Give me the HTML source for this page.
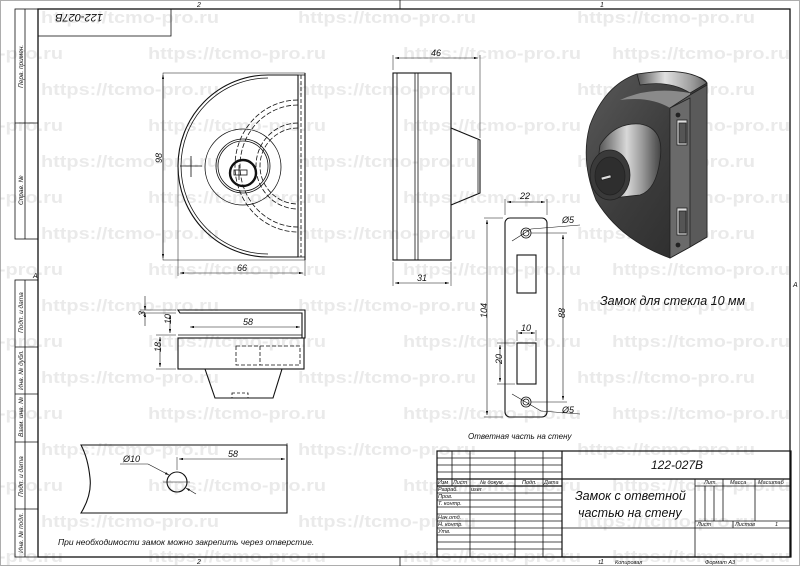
<!DOCTYPE html>
<html><head><meta charset="utf-8"><style>
html,body{margin:0;padding:0;background:#fff;}
svg{display:block;}
text{font-family:"Liberation Sans","DejaVu Sans",sans-serif;font-style:italic;fill:#111;}
.wm text{font-family:"Liberation Sans",sans-serif;font-weight:bold;font-style:normal;font-size:17px;fill:#e6e6e6;opacity:0.8;}
</style></head><body>
<svg width="800" height="566" viewBox="0 0 800 566" xmlns="http://www.w3.org/2000/svg">
<defs>
<marker id="a" viewBox="0 0 10 6" refX="10" refY="3" markerWidth="8" markerHeight="4" orient="auto-start-reverse"><path d="M0,0 L10,3 L0,6z" fill="#111"/></marker>
<linearGradient id="gBody" x1="0" y1="0" x2="1" y2="1"><stop offset="0" stop-color="#5a5a5a"/><stop offset="0.5" stop-color="#3c3c3c"/><stop offset="1" stop-color="#2a2a2a"/></linearGradient>
<linearGradient id="gCone" x1="0" y1="0" x2="1" y2="0"><stop offset="0" stop-color="#555"/><stop offset="0.45" stop-color="#d8d8d8"/><stop offset="0.7" stop-color="#9a9a9a"/><stop offset="1" stop-color="#444"/></linearGradient>
<linearGradient id="gBand" x1="0" y1="0" x2="1" y2="0"><stop offset="0" stop-color="#555"/><stop offset="0.4" stop-color="#e0e0e0"/><stop offset="0.8" stop-color="#999"/><stop offset="1" stop-color="#666"/></linearGradient>
</defs>

<!-- watermarks (behind) -->
<g class="wm">
<text x="41" y="23" textLength="178" lengthAdjust="spacingAndGlyphs">https://tcmo-pro.ru</text>
<text x="298" y="23" textLength="178" lengthAdjust="spacingAndGlyphs">https://tcmo-pro.ru</text>
<text x="577" y="23" textLength="178" lengthAdjust="spacingAndGlyphs">https://tcmo-pro.ru</text>
<text x="-115" y="59" textLength="178" lengthAdjust="spacingAndGlyphs">https://tcmo-pro.ru</text>
<text x="148" y="59" textLength="178" lengthAdjust="spacingAndGlyphs">https://tcmo-pro.ru</text>
<text x="403" y="59" textLength="178" lengthAdjust="spacingAndGlyphs">https://tcmo-pro.ru</text>
<text x="612" y="59" textLength="178" lengthAdjust="spacingAndGlyphs">https://tcmo-pro.ru</text>
<text x="41" y="95" textLength="178" lengthAdjust="spacingAndGlyphs">https://tcmo-pro.ru</text>
<text x="298" y="95" textLength="178" lengthAdjust="spacingAndGlyphs">https://tcmo-pro.ru</text>
<text x="577" y="95" textLength="178" lengthAdjust="spacingAndGlyphs">https://tcmo-pro.ru</text>
<text x="-115" y="131" textLength="178" lengthAdjust="spacingAndGlyphs">https://tcmo-pro.ru</text>
<text x="148" y="131" textLength="178" lengthAdjust="spacingAndGlyphs">https://tcmo-pro.ru</text>
<text x="403" y="131" textLength="178" lengthAdjust="spacingAndGlyphs">https://tcmo-pro.ru</text>
<text x="612" y="131" textLength="178" lengthAdjust="spacingAndGlyphs">https://tcmo-pro.ru</text>
<text x="41" y="167" textLength="178" lengthAdjust="spacingAndGlyphs">https://tcmo-pro.ru</text>
<text x="298" y="167" textLength="178" lengthAdjust="spacingAndGlyphs">https://tcmo-pro.ru</text>
<text x="577" y="167" textLength="178" lengthAdjust="spacingAndGlyphs">https://tcmo-pro.ru</text>
<text x="-115" y="203" textLength="178" lengthAdjust="spacingAndGlyphs">https://tcmo-pro.ru</text>
<text x="148" y="203" textLength="178" lengthAdjust="spacingAndGlyphs">https://tcmo-pro.ru</text>
<text x="403" y="203" textLength="178" lengthAdjust="spacingAndGlyphs">https://tcmo-pro.ru</text>
<text x="612" y="203" textLength="178" lengthAdjust="spacingAndGlyphs">https://tcmo-pro.ru</text>
<text x="41" y="239" textLength="178" lengthAdjust="spacingAndGlyphs">https://tcmo-pro.ru</text>
<text x="298" y="239" textLength="178" lengthAdjust="spacingAndGlyphs">https://tcmo-pro.ru</text>
<text x="577" y="239" textLength="178" lengthAdjust="spacingAndGlyphs">https://tcmo-pro.ru</text>
<text x="-115" y="275" textLength="178" lengthAdjust="spacingAndGlyphs">https://tcmo-pro.ru</text>
<text x="148" y="275" textLength="178" lengthAdjust="spacingAndGlyphs">https://tcmo-pro.ru</text>
<text x="403" y="275" textLength="178" lengthAdjust="spacingAndGlyphs">https://tcmo-pro.ru</text>
<text x="612" y="275" textLength="178" lengthAdjust="spacingAndGlyphs">https://tcmo-pro.ru</text>
<text x="41" y="311" textLength="178" lengthAdjust="spacingAndGlyphs">https://tcmo-pro.ru</text>
<text x="298" y="311" textLength="178" lengthAdjust="spacingAndGlyphs">https://tcmo-pro.ru</text>
<text x="577" y="311" textLength="178" lengthAdjust="spacingAndGlyphs">https://tcmo-pro.ru</text>
<text x="-115" y="347" textLength="178" lengthAdjust="spacingAndGlyphs">https://tcmo-pro.ru</text>
<text x="148" y="347" textLength="178" lengthAdjust="spacingAndGlyphs">https://tcmo-pro.ru</text>
<text x="403" y="347" textLength="178" lengthAdjust="spacingAndGlyphs">https://tcmo-pro.ru</text>
<text x="612" y="347" textLength="178" lengthAdjust="spacingAndGlyphs">https://tcmo-pro.ru</text>
<text x="41" y="383" textLength="178" lengthAdjust="spacingAndGlyphs">https://tcmo-pro.ru</text>
<text x="298" y="383" textLength="178" lengthAdjust="spacingAndGlyphs">https://tcmo-pro.ru</text>
<text x="577" y="383" textLength="178" lengthAdjust="spacingAndGlyphs">https://tcmo-pro.ru</text>
<text x="-115" y="419" textLength="178" lengthAdjust="spacingAndGlyphs">https://tcmo-pro.ru</text>
<text x="148" y="419" textLength="178" lengthAdjust="spacingAndGlyphs">https://tcmo-pro.ru</text>
<text x="403" y="419" textLength="178" lengthAdjust="spacingAndGlyphs">https://tcmo-pro.ru</text>
<text x="612" y="419" textLength="178" lengthAdjust="spacingAndGlyphs">https://tcmo-pro.ru</text>
<text x="41" y="455" textLength="178" lengthAdjust="spacingAndGlyphs">https://tcmo-pro.ru</text>
<text x="298" y="455" textLength="178" lengthAdjust="spacingAndGlyphs">https://tcmo-pro.ru</text>
<text x="577" y="455" textLength="178" lengthAdjust="spacingAndGlyphs">https://tcmo-pro.ru</text>
<text x="-115" y="491" textLength="178" lengthAdjust="spacingAndGlyphs">https://tcmo-pro.ru</text>
<text x="148" y="491" textLength="178" lengthAdjust="spacingAndGlyphs">https://tcmo-pro.ru</text>
<text x="403" y="491" textLength="178" lengthAdjust="spacingAndGlyphs">https://tcmo-pro.ru</text>
<text x="612" y="491" textLength="178" lengthAdjust="spacingAndGlyphs">https://tcmo-pro.ru</text>
<text x="41" y="527" textLength="178" lengthAdjust="spacingAndGlyphs">https://tcmo-pro.ru</text>
<text x="298" y="527" textLength="178" lengthAdjust="spacingAndGlyphs">https://tcmo-pro.ru</text>
<text x="577" y="527" textLength="178" lengthAdjust="spacingAndGlyphs">https://tcmo-pro.ru</text>
<text x="-115" y="562" textLength="178" lengthAdjust="spacingAndGlyphs">https://tcmo-pro.ru</text>
<text x="148" y="562" textLength="178" lengthAdjust="spacingAndGlyphs">https://tcmo-pro.ru</text>
<text x="403" y="562" textLength="178" lengthAdjust="spacingAndGlyphs">https://tcmo-pro.ru</text>
<text x="612" y="562" textLength="178" lengthAdjust="spacingAndGlyphs">https://tcmo-pro.ru</text>
</g>

<g fill="none" stroke="#111" stroke-width="0.8">
<rect x="0.5" y="0.5" width="799" height="565" stroke="#999"/>
<rect x="38" y="9" width="752" height="548" stroke-width="1.3"/>
<line x1="400" y1="0" x2="400" y2="9"/>
<line x1="400" y1="557" x2="400" y2="566"/>
<rect x="38" y="9" width="133" height="27"/>
<rect x="15" y="9" width="23" height="230"/>
<line x1="25" y1="9" x2="25" y2="239"/>
<line x1="15" y1="123" x2="38" y2="123"/>
<rect x="15" y="280" width="23" height="277"/>
<line x1="25" y1="280" x2="25" y2="557"/>
<line x1="15" y1="347" x2="38" y2="347"/>
<line x1="15" y1="394" x2="38" y2="394"/>
<line x1="15" y1="442" x2="38" y2="442"/>
<line x1="15" y1="509" x2="38" y2="509"/>
<rect x="437" y="451" width="354" height="106" stroke-width="1.2"/>
<line x1="562" y1="451" x2="562" y2="557" stroke-width="1.2"/>
<line x1="452" y1="451" x2="452" y2="486"/>
<line x1="470" y1="451" x2="470" y2="557"/>
<line x1="515" y1="451" x2="515" y2="557"/>
<line x1="543" y1="451" x2="543" y2="557"/>
<line x1="437" y1="458" x2="562" y2="458"/>
<line x1="437" y1="465" x2="562" y2="465"/>
<line x1="437" y1="472" x2="562" y2="472"/>
<line x1="437" y1="479" x2="791" y2="479" stroke-width="1.2"/>
<line x1="437" y1="486" x2="562" y2="486" stroke-width="1.2"/>
<line x1="437" y1="493" x2="562" y2="493"/>
<line x1="437" y1="500" x2="562" y2="500"/>
<line x1="437" y1="507" x2="562" y2="507"/>
<line x1="437" y1="514" x2="562" y2="514"/>
<line x1="437" y1="521" x2="562" y2="521"/>
<line x1="437" y1="528" x2="791" y2="528"/>
<line x1="437" y1="535" x2="562" y2="535"/>
<line x1="437" y1="542" x2="562" y2="542"/>
<line x1="437" y1="549" x2="562" y2="549"/>
<line x1="695" y1="479" x2="695" y2="557"/>
<line x1="723" y1="479" x2="723" y2="521"/>
<line x1="755" y1="479" x2="755" y2="521"/>
<line x1="695" y1="486" x2="791" y2="486"/>
<line x1="695" y1="521" x2="791" y2="521"/>
<line x1="705" y1="486" x2="705" y2="521"/>
<line x1="714" y1="486" x2="714" y2="521"/>
<line x1="733" y1="521" x2="733" y2="528"/>
</g>

<!-- FRONT VIEW -->
<g fill="none" stroke="#111" stroke-width="0.8">
<rect x="163" y="73" width="142" height="187" stroke-width="0.5"/>
<path d="M268,75 A90,91 0 0 0 268,257 L298,257 L298,75 Z" stroke-width="1.1"/>
<path d="M268,78 A87,88 0 0 0 268,254" />
<line x1="298" y1="75" x2="305" y2="75"/><line x1="298" y1="257" x2="305" y2="257"/>
<line x1="301" y1="75" x2="301" y2="257" stroke-dasharray="4,2"/>
<line x1="305" y1="73" x2="305" y2="260" stroke-width="1.1"/>
<path d="M298,100 A63,66 0 0 0 298,232" stroke-dasharray="5,2"/>
<path d="M298,105 A58,61 0 0 0 298,227" stroke-dasharray="5,2"/>
<path d="M298,123 A42,43 0 0 0 298,209" stroke-dasharray="5,2"/>
<path d="M298,128 A38,38 0 0 0 298,204" stroke-dasharray="5,2"/>
<circle cx="243" cy="167" r="38"/>
<circle cx="243" cy="166" r="27"/>
<circle cx="243" cy="166" r="25"/>
<circle cx="243" cy="173" r="13" stroke-width="2.4"/>
<rect x="234" y="170" width="13" height="5"/>
<line x1="239" y1="165" x2="239" y2="180"/>
<line x1="180" y1="166" x2="202" y2="166"/><line x1="191" y1="156" x2="191" y2="177"/>
<line x1="163" y1="75" x2="163" y2="258" marker-start="url(#a)" marker-end="url(#a)" stroke-width="0.6"/>
<line x1="178" y1="166" x2="178" y2="276" stroke-width="0.5"/>
<line x1="305" y1="260" x2="305" y2="276" stroke-width="0.5"/>
<line x1="180" y1="273" x2="303" y2="273" marker-start="url(#a)" marker-end="url(#a)" stroke-width="0.6"/>
</g>
<text x="161" y="170" font-size="9" transform="rotate(-90 158 166)">98</text>
<text x="237" y="271" font-size="9">66</text>

<!-- SIDE VIEW -->
<g fill="none" stroke="#111" stroke-width="0.8">
<rect x="393" y="73" width="58" height="187" stroke-width="1.1"/>
<line x1="397" y1="73" x2="397" y2="260"/>
<line x1="415" y1="73" x2="415" y2="260"/>
<line x1="418" y1="73" x2="418" y2="260"/>
<path d="M451,128 L480,140 L480,193 L451,205" stroke-width="1.1"/>
<line x1="478" y1="140" x2="478" y2="193"/>
<line x1="393" y1="70" x2="393" y2="55" stroke-width="0.5"/>
<line x1="480" y1="138" x2="480" y2="55" stroke-width="0.5"/>
<line x1="395" y1="58" x2="478" y2="58" marker-start="url(#a)" marker-end="url(#a)" stroke-width="0.6"/>
<line x1="393" y1="262" x2="393" y2="286" stroke-width="0.5"/>
<line x1="451" y1="262" x2="451" y2="286" stroke-width="0.5"/>
<line x1="395" y1="283" x2="449" y2="283" marker-start="url(#a)" marker-end="url(#a)" stroke-width="0.6"/>
</g>
<text x="431" y="56" font-size="9">46</text>
<text x="417" y="281" font-size="9">31</text>

<!-- STRIKE PLATE -->
<g fill="none" stroke="#111" stroke-width="0.8">
<rect x="505" y="218" width="42" height="199" rx="5" stroke-width="1.1"/>
<circle cx="526" cy="233" r="5"/><circle cx="526" cy="233" r="3"/>
<circle cx="526" cy="402" r="5"/><circle cx="526" cy="402" r="3"/>
<rect x="517" y="255" width="19" height="38" stroke-width="1.1"/>
<rect x="517" y="343" width="19" height="41" stroke-width="1.1"/>
<line x1="505" y1="215" x2="505" y2="199" stroke-width="0.5"/>
<line x1="547" y1="215" x2="547" y2="199" stroke-width="0.5"/>
<line x1="507" y1="202" x2="545" y2="202" marker-start="url(#a)" marker-end="url(#a)" stroke-width="0.6"/>
<line x1="503" y1="218" x2="484" y2="218" stroke-width="0.5"/>
<line x1="503" y1="417" x2="484" y2="417" stroke-width="0.5"/>
<line x1="487" y1="220" x2="487" y2="415" marker-start="url(#a)" marker-end="url(#a)" stroke-width="0.6"/>
<line x1="531" y1="233" x2="567" y2="233" stroke-width="0.5"/>
<line x1="531" y1="402" x2="567" y2="402" stroke-width="0.5"/>
<line x1="563" y1="235" x2="563" y2="400" marker-start="url(#a)" marker-end="url(#a)" stroke-width="0.6"/>
<line x1="517" y1="341" x2="517" y2="330" stroke-width="0.5"/>
<line x1="536" y1="341" x2="536" y2="330" stroke-width="0.5"/>
<line x1="518" y1="333" x2="535" y2="333" marker-start="url(#a)" marker-end="url(#a)" stroke-width="0.6"/>
<line x1="515" y1="343" x2="497" y2="343" stroke-width="0.5"/>
<line x1="515" y1="384" x2="497" y2="384" stroke-width="0.5"/>
<line x1="500" y1="345" x2="500" y2="382" marker-start="url(#a)" marker-end="url(#a)" stroke-width="0.6"/>
<line x1="512" y1="241" x2="531" y2="229" stroke-width="0.6"/>
<line x1="531" y1="229" x2="580" y2="225" stroke-width="0.5"/>
<line x1="512" y1="394" x2="541" y2="411" stroke-width="0.6"/>
<line x1="541" y1="411" x2="580" y2="414" stroke-width="0.5"/>
</g>
<text x="520" y="199" font-size="9">22</text>
<text x="483" y="322" font-size="9" transform="rotate(-90 483 318)">104</text>
<text x="561" y="322" font-size="9" transform="rotate(-90 561 318)">88</text>
<text x="521" y="331" font-size="9">10</text>
<text x="498" y="368" font-size="9" transform="rotate(-90 498 364)">20</text>
<text x="562" y="223" font-size="9">Ø5</text>
<text x="562" y="413" font-size="9">Ø5</text>
<text x="468" y="439" font-size="8">Ответная часть на стену</text>

<!-- 3D RENDER -->
<g stroke="#222" stroke-width="0.8">
<path d="M637,74 Q700,70 707,83 L707,237 L690,247 L670,258 Q620,240 596,200 Q580,160 590,125 Q605,85 637,74 Z" fill="url(#gBody)"/>
<path d="M637,74 Q690,66 707,83 L690,93 Q670,80 640,85 Z" fill="url(#gBand)"/>
<path d="M620,100 Q650,86 690,93 L690,108 L670,108 Q650,96 620,100Z" fill="#8a8a8a" stroke="none"/>
<path d="M670,108 L690,95 L707,85 L707,237 L690,247 L670,258 Z" fill="#5a5a5a"/>
<path d="M670,108 L690,98 L690,247 L670,258 Z" fill="#6a6a6a"/>
<path d="M600,145 Q615,122 640,124 Q665,128 660,160 Q656,190 640,195 L612,198 Q595,175 600,145Z" fill="url(#gCone)"/>
<ellipse cx="610" cy="175" rx="20" ry="25" fill="#3a3a3a"/>
<ellipse cx="610" cy="176" rx="15" ry="19" fill="#2e2e2e"/>
<rect x="601" y="176" width="10" height="3" fill="#ddd" transform="rotate(-15 606 177)"/>
<rect x="677" y="120" width="10" height="25" fill="#ddd"/>
<rect x="679" y="123" width="7" height="20" fill="#555"/>
<rect x="677" y="208" width="10" height="27" fill="#ddd"/>
<rect x="679" y="211" width="7" height="22" fill="#555"/>
<circle cx="678" cy="115" r="2" fill="#222"/>
<circle cx="678" cy="245" r="2" fill="#222"/>
</g>
<text x="600" y="305" font-size="12.5">Замок для стекла 10 мм</text>

<!-- TOP VIEW -->
<g fill="none" stroke="#111" stroke-width="0.8">
<path d="M178,310 L305,310 L305,338 L302,338 L302,313 L180,313 Z" stroke-width="1.1"/>
<path d="M178,335 L302,335" />
<rect x="178" y="338" width="126" height="31" stroke-width="1.1"/>
<path d="M205,369 L215,398 L273,398 L282,369" stroke-width="1.1"/>
<rect x="236" y="346" width="64" height="19" stroke-dasharray="4,2"/>
<line x1="260" y1="346" x2="260" y2="365" stroke-dasharray="4,2"/>
<rect x="232" y="393" width="16" height="5" stroke-dasharray="3,2"/>
<line x1="176" y1="310" x2="140" y2="310" stroke-width="0.5"/>
<line x1="176" y1="313" x2="140" y2="313" stroke-width="0.5"/>
<line x1="145" y1="296" x2="145" y2="310" marker-end="url(#a)" stroke-width="0.6"/>
<line x1="145" y1="326" x2="145" y2="313" marker-end="url(#a)" stroke-width="0.6"/>
<line x1="176" y1="335" x2="156" y2="335" stroke-width="0.5"/>
<line x1="176" y1="369" x2="156" y2="369" stroke-width="0.5"/>
<line x1="170" y1="315" x2="170" y2="333" marker-start="url(#a)" marker-end="url(#a)" stroke-width="0.6"/>
<line x1="160" y1="337" x2="160" y2="367" marker-start="url(#a)" marker-end="url(#a)" stroke-width="0.6"/>
<line x1="190" y1="327" x2="300" y2="327" marker-start="url(#a)" marker-end="url(#a)" stroke-width="0.6"/>
</g>
<text x="137" y="318" font-size="9" transform="rotate(-90 140 313)">3</text>
<text x="167" y="328" font-size="9" transform="rotate(-90 167 324)">10</text>
<text x="157" y="356" font-size="9" transform="rotate(-90 157 352)">18</text>
<text x="243" y="325" font-size="9">58</text>

<!-- BOTTOM VIEW -->
<g fill="none" stroke="#111" stroke-width="0.8">
<path d="M81,445 L287,445 L287,513 L81,513 Q92,495 90,478 Q88,458 81,445 Z" stroke-width="1.1"/>
<circle cx="177" cy="482" r="10" stroke-width="1.1"/>
<line x1="163" y1="482" x2="190" y2="482" stroke-width="0.5"/>
<line x1="177" y1="470" x2="177" y2="457" stroke-width="0.5"/>
<line x1="287" y1="443" x2="287" y2="457" stroke-width="0.5"/>
<line x1="179" y1="459" x2="285" y2="459" marker-start="url(#a)" marker-end="url(#a)" stroke-width="0.6"/>
<line x1="120" y1="464" x2="148" y2="464" stroke-width="0.5"/>
<line x1="148" y1="464" x2="169" y2="475" marker-end="url(#a)" stroke-width="0.6"/>
<line x1="196" y1="494" x2="186" y2="488" marker-end="url(#a)" stroke-width="0.6"/>
</g>
<text x="123" y="462" font-size="9">Ø10</text>
<text x="228" y="457" font-size="9">58</text>
<text x="58" y="545" font-size="8.5">При необходимости замок можно закрепить через отверстие.</text>

<text x="105" y="22" font-size="11" transform="rotate(180 104 18)">122-027В</text>
<text x="197" y="7" font-size="7">2</text>
<text x="600" y="7" font-size="7">1</text>
<text x="197" y="564" font-size="7">2</text>
<text x="600" y="564" font-size="7">1</text>
<text x="33" y="278" font-size="7">A</text>
<text x="793" y="287" font-size="7">A</text>
<g font-size="6.5">
<text transform="translate(23,88) rotate(-90)">Перв. примен.</text>
<text transform="translate(23,205) rotate(-90)">Справ. №</text>
<text transform="translate(23,333) rotate(-90)">Подп. и дата</text>
<text transform="translate(23,390) rotate(-90)">Инв. № дубл.</text>
<text transform="translate(23,437) rotate(-90)">Взам. инв. №</text>
<text transform="translate(23,497) rotate(-90)">Подп. и дата</text>
<text transform="translate(23,553) rotate(-90)">Инв. № подл.</text>
</g>
<g font-size="5.5">
<text x="438" y="484">Изм</text><text x="453" y="484">Лист</text><text x="480" y="484">№ докум.</text><text x="522" y="484">Подп.</text><text x="544" y="484">Дата</text>
<text x="438" y="491">Разраб.</text><text x="471" y="491">user</text>
<text x="438" y="498">Пров.</text>
<text x="438" y="505">Т. контр.</text>
<text x="438" y="519">Нач.отд.</text>
<text x="438" y="526">Н. контр.</text>
<text x="438" y="533">Утв.</text>
<text x="704" y="484">Лит.</text><text x="730" y="484">Масса</text><text x="758" y="484">Масштаб</text>
<text x="697" y="526">Лист</text><text x="735" y="526">Листов</text><text x="775" y="526">1</text>
<text x="598" y="564">1</text><text x="615" y="564">Копировал</text><text x="705" y="564">Формат А3</text>
</g>
<text x="651" y="469" font-size="12">122-027В</text>
<text x="575" y="500" font-size="12.5">Замок с ответной</text>
<text x="578" y="517" font-size="12.5">частью на стену</text>
</svg>
</body></html>
